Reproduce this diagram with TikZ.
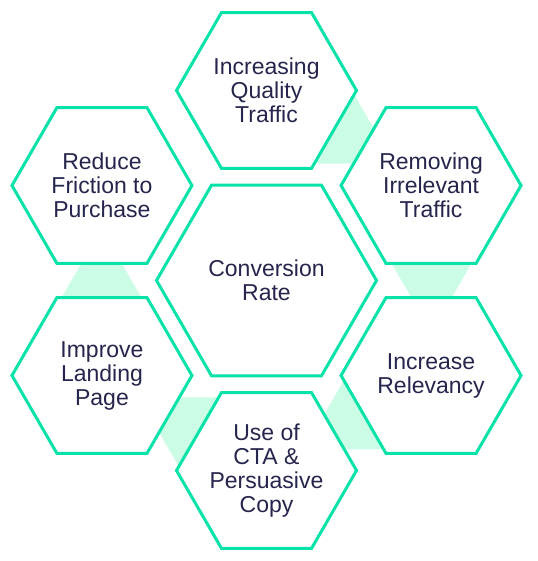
\documentclass[tikz,border=0pt]{standalone}
\usepackage{fontspec}
\setmainfont{Liberation Sans}
\usetikzlibrary{shapes.geometric,calc}
\definecolor{ink}{HTML}{25254D}
\definecolor{hexLine}{HTML}{07E3A8}
\definecolor{mintFill}{HTML}{CBFCE5}
\tikzset{
  hexa/.style={regular polygon,regular polygon sides=6,draw=hexLine,line width=3pt,
    fill=white,minimum size=180pt,inner sep=0pt,text=ink,align=center,
    font=\fontsize{23}{24}\selectfont},
  hexbig/.style={hexa,minimum size=220pt},
}
% mint link triangle: #1 = direction from the middle, #2 = angle of its tip
\newcommand{\linktri}[2]{%
  \fill[mintFill] ($(#1:165)+(#2:52)$) -- ($(#1:165)+(#2+120:52)$)
    -- ($(#1:165)+(#2+240:52)$) -- cycle;
}

\begin{document}
\begin{tikzpicture}[x=1pt,y=1pt]
\useasboundingbox (-266.5,-280.5) rectangle (270.5,280.5);

% ================= LINKS =================
\linktri{60}{90}
\linktri{0}{270}
\linktri{-60}{90}
\linktri{-120}{270}
\linktri{180}{90}

% ================= HEXAGONS =================
\node[hexbig] (Hc) at (0,0) {Conversion\\Rate};
\node[hexa] (Ht) at (90:190) {Increasing\\Quality\\Traffic};
\node[hexa] (Hur) at (30:190) {Removing\\Irrelevant\\Traffic};
\node[hexa] (Hlr) at (-30:190) {Increase\\Relevancy};
\node[hexa,inner sep=-10pt] (Hb) at (-90:190) {Use of\\CTA \&\\Persuasive\\Copy};
\node[hexa] (Hll) at (210:190) {Improve\\Landing\\Page};
\node[hexa] (Hul) at (150:190) {Reduce\\Friction to\\Purchase};

\end{tikzpicture}
\end{document}
